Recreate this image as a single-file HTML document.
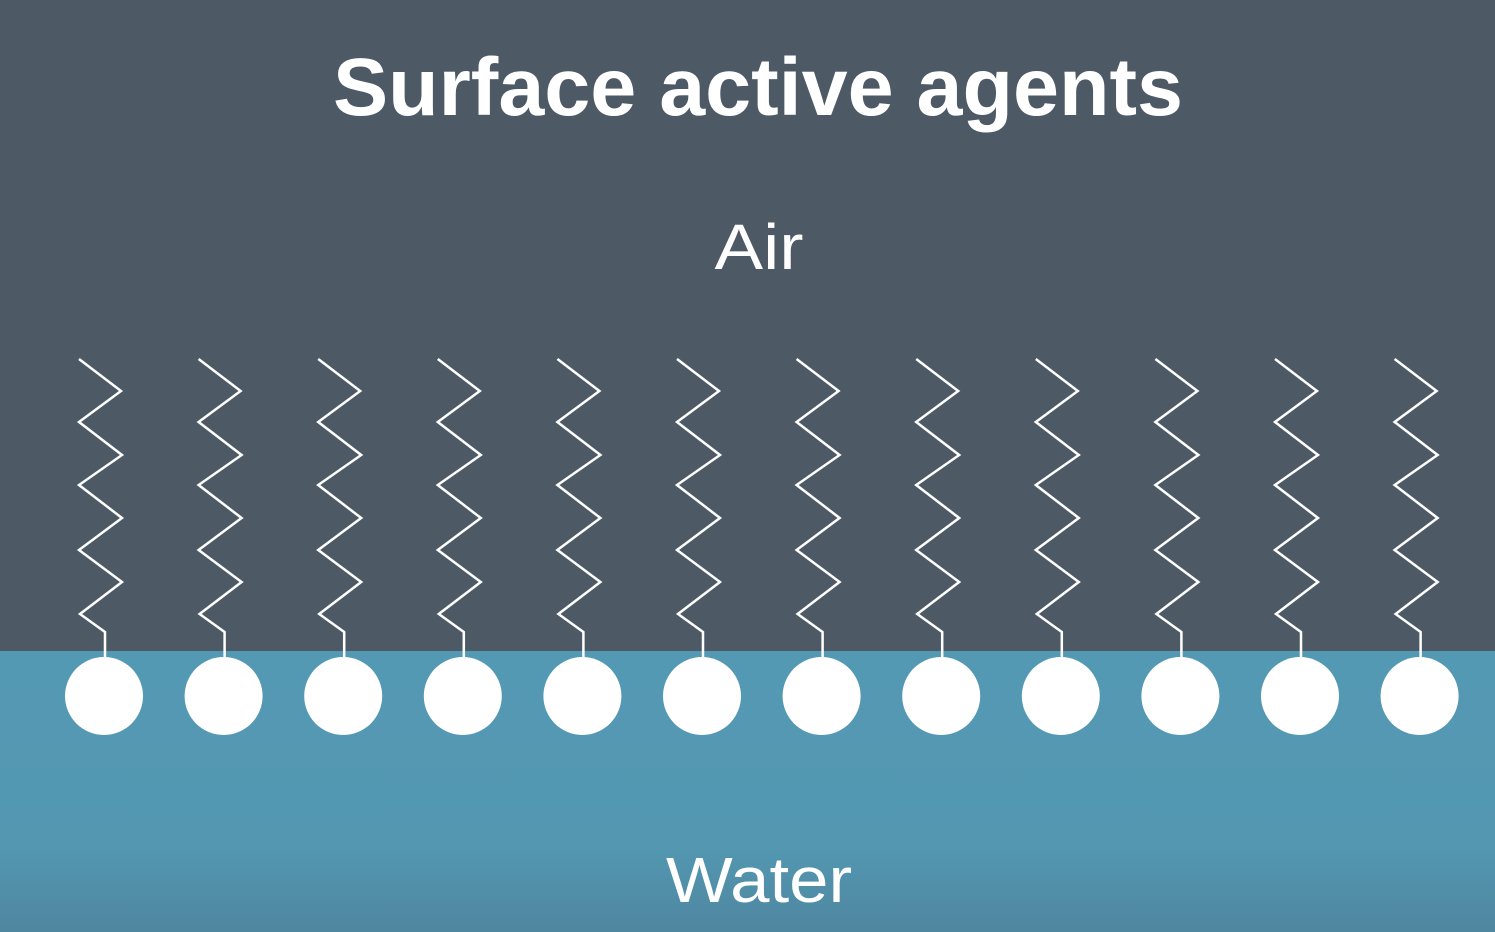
<!DOCTYPE html>
<html><head><meta charset="utf-8"><style>
html,body{margin:0;padding:0;width:1495px;height:932px;overflow:hidden;background:#4d5a66;}
</style></head><body>
<svg width="1495" height="932" viewBox="0 0 1495 932" xmlns="http://www.w3.org/2000/svg">
<defs><linearGradient id="w" x1="0" y1="0" x2="0" y2="1">
<stop offset="0" stop-color="#5499b4"/><stop offset="0.7" stop-color="#5397b1"/><stop offset="1" stop-color="#4f86a0"/></linearGradient></defs>
<rect x="0" y="0" width="1495" height="651" fill="#4d5a66"/>
<rect x="0" y="651" width="1495" height="281" fill="url(#w)"/>
<text x="758" y="115" text-anchor="middle" font-family="Liberation Sans, sans-serif" font-weight="bold" font-size="82" fill="#fff" textLength="850" lengthAdjust="spacingAndGlyphs">Surface active agents</text>
<text x="759" y="269" text-anchor="middle" font-family="Liberation Sans, sans-serif" font-size="64" fill="#fff" textLength="89" lengthAdjust="spacingAndGlyphs">Air</text>
<text x="759" y="902" text-anchor="middle" font-family="Liberation Sans, sans-serif" font-size="64" fill="#fff" textLength="186" lengthAdjust="spacingAndGlyphs">Water</text>
<g id="m" fill="none" stroke="#fff" stroke-width="2.5" stroke-linejoin="miter">
<polyline points="79,359 121,391 79,422 122,455 79,485 122,518 79,550 122,582 80,614 105,632 105,660"/>
</g>
<circle cx="104" cy="696" r="39" fill="#fff"/>
<use href="#m" x="119.6"/><circle cx="223.6" cy="696" r="39" fill="#fff"/>
<use href="#m" x="239.2"/><circle cx="343.2" cy="696" r="39" fill="#fff"/>
<use href="#m" x="358.8"/><circle cx="462.8" cy="696" r="39" fill="#fff"/>
<use href="#m" x="478.4"/><circle cx="582.4" cy="696" r="39" fill="#fff"/>
<use href="#m" x="598"/><circle cx="702" cy="696" r="39" fill="#fff"/>
<use href="#m" x="717.6"/><circle cx="821.6" cy="696" r="39" fill="#fff"/>
<use href="#m" x="837.2"/><circle cx="941.2" cy="696" r="39" fill="#fff"/>
<use href="#m" x="956.8"/><circle cx="1060.8" cy="696" r="39" fill="#fff"/>
<use href="#m" x="1076.4"/><circle cx="1180.4" cy="696" r="39" fill="#fff"/>
<use href="#m" x="1196"/><circle cx="1300" cy="696" r="39" fill="#fff"/>
<use href="#m" x="1315.6"/><circle cx="1419.6" cy="696" r="39" fill="#fff"/>
</svg>
</body></html>
